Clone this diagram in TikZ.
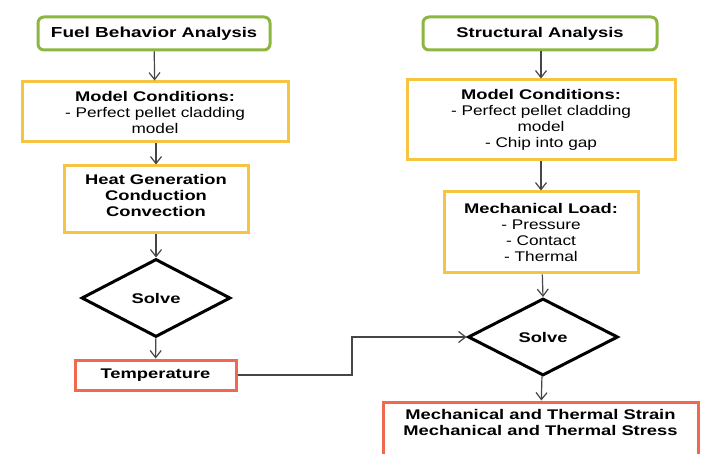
\documentclass[tikz,border=0pt]{standalone}
\usepackage{fontspec}
\setmainfont{Liberation Sans}[FakeStretch=1.23,BoldFeatures={FakeStretch=1.31}]
\usetikzlibrary{arrows.meta, positioning, shapes.geometric}

\definecolor{boxgreen}{RGB}{141,182,64}
\definecolor{boxyellow}{RGB}{246,196,66}
\definecolor{boxred}{RGB}{240,104,80}
\definecolor{linegray}{RGB}{70,70,70}

\begin{document}
\begin{tikzpicture}[x=1pt,y=-1pt,font=\bfseries\fontsize{14}{16}\selectfont,
    >={Straight Barb[length=7pt,width=11pt]}]
    \useasboundingbox[fill=white] (0,0) rectangle (701,454);

    \tikzset{start/.style={draw=boxgreen,line width=3pt,rounded corners=6pt,inner sep=0pt}}
    \tikzset{cond/.style={draw=boxyellow,line width=3pt,align=center,inner sep=0pt}}
    \tikzset{result/.style={draw=boxred,line width=3pt,align=center,inner sep=0pt}}
    \tikzset{solve/.style={diamond,draw=black,line width=3pt,inner sep=0pt}}
    \tikzset{flow/.style={->,draw=linegray,line width=1.2pt}}

    % fuel behavior branch
    \node[start,minimum width=232,minimum height=33] (FBA) at (154,33.5) {{\fontsize{14.5}{16}\selectfont Fuel Behavior} Analysis};
    \node[cond,minimum width=266,minimum height=60] (MC1) at (155,112) {Model Conditions:\\ \mdseries - Perfect pellet cladding\\ \mdseries model};
    \node[cond,minimum width=184,minimum height=67] (HG) at (156,199.5) {};
    \node[align=center,anchor=north] (HGtext) at (156,171) {Heat Generation\\Conduction\\Convection};
    \node[solve,minimum width=149,minimum height=78] (S1) at (156,298) {Solve};
    \node[result,minimum width=161,minimum height=30] (Temp) at (155.5,375) {Temperature};

    % structural branch
    \node[start,minimum width=234,minimum height=33] (SA) at (540,33.5) {Structural Analysis};
    \node[cond,minimum width=268,minimum height=80] (MC2) at (541,120) {Model Conditions:\\ \mdseries - Perfect pellet cladding\\ \mdseries model\\ \mdseries - Chip into gap};
    \node[cond,minimum width=194,minimum height=81] (ML) at (541,232.5) {Mechanical Load:\\ \mdseries - Pressure\\ \mdseries - Contact\\ \mdseries - Thermal};
    \node[solve,minimum width=150,minimum height=77] (S2) at (543,337) {Solve};
    \node[result,minimum width=315,minimum height=58] (MTS) at (540.5,431) {};
    \node[align=center,anchor=north] (MTStext) at (540.5,406) {Mechanical and Thermal Strain\\Mechanical and Thermal Stress};

    \coordinate (bend) at (352,375);

    \path (FBA) edge [flow] (MC1);
    \path (MC1.south -| HG.north) edge [flow] (HG);
    \path (HG) edge [flow] (S1);
    \path (S1) edge [flow] (Temp);
    \path (SA.south -| MC2.north) edge [flow] (MC2);
    \path (MC2) edge [flow] (ML);
    \path (ML) edge [flow] (S2.north);
    \path (S2) edge [flow] (MTS);
    \draw[flow] (Temp.east) -- (bend) |- (S2.west);

\end{tikzpicture}
\end{document}
